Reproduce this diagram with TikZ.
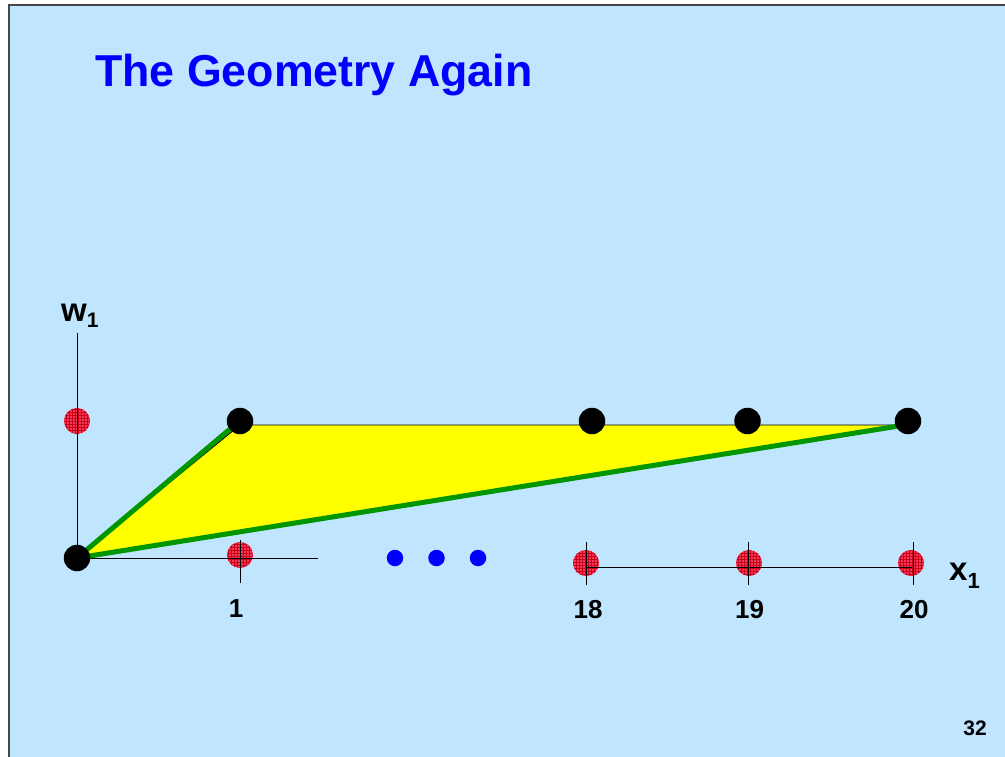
\documentclass[tikz,border=0pt]{standalone}
\usepackage{fontspec}
\setmainfont{Liberation Sans}
\usetikzlibrary{patterns}
\definecolor{slidebg}{RGB}{192,230,255}
\definecolor{titleblue}{RGB}{0,0,255}
\definecolor{dotred}{RGB}{238,62,88}
\definecolor{hatchred}{RGB}{255,0,30}
\definecolor{hullgreen}{RGB}{0,150,0}
\definecolor{hullyellow}{RGB}{255,255,0}
\definecolor{framegray}{RGB}{70,70,70}
\newcommand{\fsz}[1]{\fontsize{#1}{#1}\selectfont}
\tikzset{
  blackdot/.style={circle, fill=black, inner sep=0pt, minimum size=26.5pt},
  reddot/.style={circle, fill=dotred, draw=hatchred, line width=0.4pt, inner sep=0pt, minimum size=25.5pt,
    postaction={pattern=grid, pattern color=hatchred!80!black}},
  bluedot/.style={circle, fill=titleblue, inner sep=0pt, minimum size=16.5pt},
  axisline/.style={draw=black, line width=0.9pt},
  hulledge/.style={draw=hullgreen, line width=5pt, line cap=round},
  lbl/.style={font=\bfseries\fsz{26}, inner sep=0pt, anchor=base},
}
\begin{document}
\begin{tikzpicture}[x=1pt,y=-1pt]
\useasboundingbox (0,0) rectangle (1005,757);
\fill[white] (0,0) rectangle (1005,757);
\fill[slidebg] (9,5) rectangle (1005,757);
\draw[framegray, line width=1.2pt] (9,757) -- (9,5) -- (1005,5);

% title
\node[anchor=base west, inner sep=0pt, text=titleblue, font=\bfseries\fsz{44.7}] (title) at (95,87) {The Geometry Again};

% red dots (drawn below the axis lines)
\node[reddot] (rw) at (77,421) {};
\node[reddot] (r1) at (240,555) {};
\node[reddot] (r18) at (586,563) {};
\node[reddot] (r19) at (749,563) {};
\node[reddot] (r20) at (911,563) {};

% axes
\coordinate (origin) at (77,558);
\coordinate (wtop) at (77,333);
\coordinate (xleftend) at (318,558);
\coordinate (xr0) at (586,567);
\coordinate (xr1) at (912,567);
\draw[axisline] (origin) -- (wtop);
\draw[axisline] (origin) -- (xleftend);
\draw[axisline] (xr0) -- (xr1);
\draw[axisline] (240,540) -- (240,583);
\draw[axisline] (586.5,542) -- (586.5,585);
\draw[axisline] (748.5,542) -- (748.5,585);
\draw[axisline] (913,542) -- (913,585);

% hull
\coordinate (p1) at (240,425);
\coordinate (p20) at (905,425);
\filldraw[fill=hullyellow, draw=black, line width=0.9pt] (origin) -- (p1) -- (p20) -- cycle;
\draw[hulledge] (origin) -- (236,424);
\draw[hulledge] (origin) -- (p20);

% black dots
\node[blackdot] (b0) at (77,558) {};
\node[blackdot] (b1) at (240,421) {};
\node[blackdot] (b18) at (592,421) {};
\node[blackdot] (b19) at (747.5,421) {};
\node[blackdot] (b20) at (908,421) {};

% ellipsis dots
\node[bluedot] (e1) at (395,558) {};
\node[bluedot] (e2) at (436.5,558) {};
\node[bluedot] (e3) at (478,558) {};

% labels
\node[anchor=base west, inner sep=0pt, font=\bfseries\fsz{33}] (wlab) at (61,321) {w\raisebox{-6pt}{\fsz{21}1}};
\node[anchor=base west, inner sep=0pt, font=\bfseries\fsz{33}] (xlab) at (949,580) {x\raisebox{-8pt}{\fsz{22}1}};
\node[lbl] (l1) at (236,617) {1};
\node[lbl] (l18) at (588,618) {18};
\node[lbl] (l19) at (749.5,618) {19};
\node[lbl] (l20) at (914,618) {20};
\node[anchor=base, inner sep=0pt, font=\bfseries\fsz{21}] (page) at (975,735) {32};
\end{tikzpicture}
\end{document}
